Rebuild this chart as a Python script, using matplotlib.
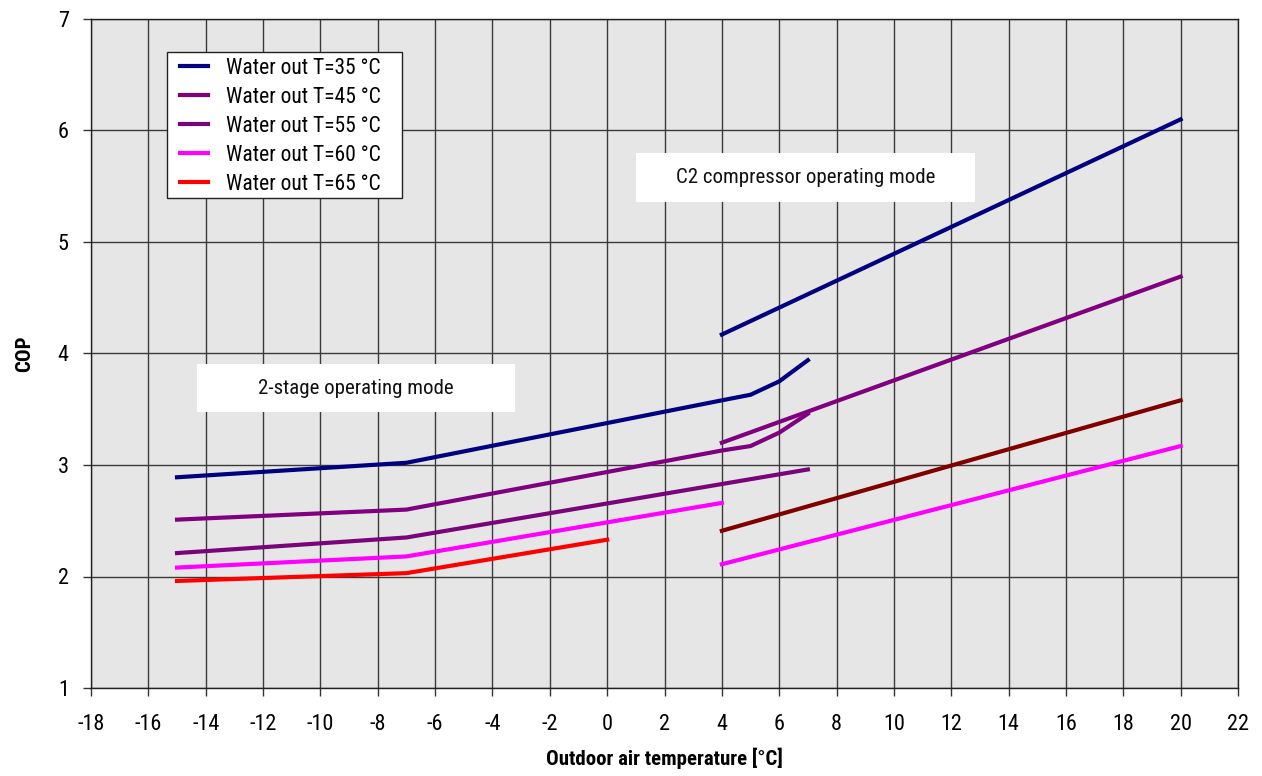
import matplotlib
matplotlib.use("Agg")
import matplotlib.pyplot as plt
from matplotlib.font_manager import fontManager
from matplotlib.patches import Rectangle

names = {f.name for f in fontManager.ttflist}
fam = ['Liberation Sans Narrow', 'DejaVu Sans'] if 'Liberation Sans Narrow' in names else ['Roboto Condensed', 'DejaVu Sans']
plt.rcParams['font.family'] = fam

# ---- data ----
x_2stage_a = [-15, -7, 4, 5, 6, 7]
cop35_2stage = [2.89, 3.02, 3.58, 3.63, 3.75, 3.94]
cop45_2stage = [2.51, 2.60, 3.13, 3.17, 3.29, 3.46]
x_2stage_55 = [-15, -7, 7]
cop55_2stage = [2.21, 2.35, 2.96]
x_2stage_60 = [-15, -7, 4]
cop60_2stage = [2.08, 2.18, 2.66]
x_2stage_65 = [-15, -7, 0]
cop65_2stage = [1.96, 2.03, 2.33]

x_c2 = [4, 20]
cop35_c2 = [4.17, 6.10]
cop45_c2 = [3.20, 4.69]
cop_dark_c2 = [2.41, 3.58]
cop60_c2 = [2.11, 3.17]

labels = ['Water out T=35 °C', 'Water out T=45 °C', 'Water out T=55 °C',
          'Water out T=60 °C', 'Water out T=65 °C']
colors = ['#000080', '#800080', '#7a057a', '#ff00ff', '#ff0000']
dark_red = '#800000'

xticks = list(range(-18, 23, 2))
yticks = list(range(1, 8))

W, H = 1262, 776
AX_L, AX_R, AX_T, AX_B = 91, 1238, 19, 688

fig = plt.figure(figsize=(W/100, H/100), dpi=100)
ax = fig.add_axes([AX_L/W, 1 - AX_B/H, (AX_R-AX_L)/W, (AX_B-AX_T)/H])
ax.set_facecolor('#e6e6e6')
ax.set_xlim(-18, 22)
ax.set_ylim(1, 7)
ax.set_xticks(xticks)
ax.set_yticks(yticks)
ax.set_xticklabels([str(v) for v in xticks])
ax.set_yticklabels([str(v) for v in yticks])
ax.grid(True, color='#3a3a3a', linewidth=1.0)
ax.set_axisbelow(True)
for s in ax.spines.values():
    s.set_color('#222222')
    s.set_linewidth(1.0)
ax.tick_params(axis='both', direction='out', length=6, width=1, color='#333333',
               labelsize=16, pad=10)
ax.tick_params(axis='x', pad=13)

lw = 3
ax.plot(x_2stage_a, cop35_2stage, color=colors[0], lw=lw, label=labels[0])
ax.plot(x_2stage_a, cop45_2stage, color=colors[1], lw=lw, label=labels[1])
ax.plot(x_2stage_55, cop55_2stage, color=colors[2], lw=lw, label=labels[2])
ax.plot(x_2stage_60, cop60_2stage, color=colors[3], lw=lw, label=labels[3])
ax.plot(x_2stage_65, cop65_2stage, color=colors[4], lw=lw, label=labels[4])
ax.plot(x_c2, cop35_c2, color=colors[0], lw=lw)
ax.plot(x_c2, cop45_c2, color=colors[1], lw=lw)
ax.plot(x_c2, cop_dark_c2, color=dark_red, lw=lw)
ax.plot(x_c2, cop60_c2, color=colors[3], lw=lw)

def ax_frac(px, py):
    return (px - AX_L) / (AX_R - AX_L), (AX_B - py) / (AX_B - AX_T)

# legend frame (drawn separately for exact padding)
fx0, fy1 = ax_frac(167, 52)
fx1, fy0 = ax_frac(402, 198)
ax.add_patch(Rectangle((fx0, fy0), fx1 - fx0, fy1 - fy0, transform=ax.transAxes,
                       facecolor='white', edgecolor='#222222', linewidth=1.0, zorder=4))
leg = ax.legend(loc='upper left', bbox_to_anchor=ax_frac(180, 58),
                frameon=False, fontsize=15.5, handlelength=1.3,
                handletextpad=0.85, labelspacing=0.37, borderpad=0, borderaxespad=0)
leg.set_zorder(5)

def px2data(px, py):
    return -18 + (px - AX_L) / ((AX_R - AX_L) / 40), 1 + (AX_B - py) / ((AX_B - AX_T) / 6)

for (x0, y0, x1, y1, txt) in [(197, 364, 515, 412, '2-stage operating mode'),
                              (636, 153, 975, 202, 'C2 compressor operating mode')]:
    dx0, dy1 = px2data(x0, y0)
    dx1, dy0 = px2data(x1, y1)
    ax.add_patch(Rectangle((dx0, dy0), dx1 - dx0, dy1 - dy0, facecolor='white',
                           edgecolor='none', zorder=2))
    ax.text((dx0 + dx1) / 2, (dy0 + dy1) / 2, txt, ha='center', va='center',
            fontsize=15, zorder=3, color='#111111')

ax.set_xlabel('Outdoor air temperature [°C]', fontsize=15, fontweight='bold', labelpad=9)
ax.set_ylabel('COP', fontsize=15, fontweight='bold', labelpad=17)

fig.savefig('out.png', dpi=100)
